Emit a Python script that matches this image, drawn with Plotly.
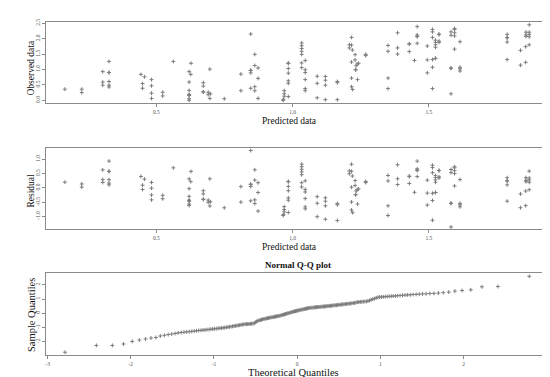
import plotly.graph_objects as go
from statistics import NormalDist

# ---- Panel 1 / 2 data: predicted vs observed (residual = observed - predicted) ----
predicted = [
    0.164, 0.226, 0.226, 0.303, 0.303, 0.303, 0.326, 0.326, 0.326, 0.326, 0.326, 0.326,
    0.443, 0.456, 0.449, 0.449, 0.482, 0.482, 0.482, 0.482, 0.523, 0.523, 0.562,
    0.620, 0.626, 0.627, 0.620, 0.620, 0.620, 0.620, 0.620, 0.620, 0.620,
    0.672, 0.672, 0.672, 0.672, 0.690, 0.690, 0.696, 0.696, 0.698, 0.749,
    0.810, 0.810, 0.846, 0.846, 0.846, 0.846, 0.846, 0.861, 0.861, 0.861, 0.861,
    0.873, 0.873, 0.873, 0.965,
    0.969, 0.969, 0.969, 0.966, 0.984, 0.984, 0.984, 0.984, 0.984, 0.984, 0.984,
    1.033, 1.033, 1.033, 1.033, 1.033, 1.033, 1.033,
    1.046, 1.046, 1.046, 1.046, 1.046, 1.046,
    1.090, 1.090, 1.090, 1.120, 1.120, 1.120, 1.120, 1.164, 1.164, 1.164,
    1.216, 1.208, 1.216, 1.208, 1.219, 1.229, 1.216, 1.229, 1.242, 1.237, 1.233,
    1.231, 1.231, 1.216, 1.238, 1.216, 1.220, 1.268, 1.268,
    1.350, 1.350, 1.350, 1.350, 1.385, 1.385, 1.385, 1.428, 1.428, 1.428, 1.447,
    1.457, 1.457, 1.457, 1.457, 1.457, 1.494, 1.494, 1.494,
    1.513, 1.513, 1.513, 1.513, 1.513, 1.513,
    1.524, 1.524, 1.524, 1.524, 1.524, 1.524, 1.537, 1.537, 1.537, 1.537,
    1.581, 1.581, 1.581, 1.581, 1.581, 1.594, 1.594, 1.594, 1.594, 1.594,
    1.614, 1.614, 1.614, 1.614,
    1.787, 1.787, 1.787, 1.787, 1.787, 1.836, 1.836, 1.855, 1.855,
    1.856, 1.856, 1.856, 1.868, 1.868, 1.868, 1.868, 1.868,
]
observed = [
    0.36, 0.36, 0.25, 0.93, 0.59, 0.49, 1.26, 0.90, 0.90, 0.61, 0.49, 0.43,
    0.84, 0.76, 0.54, 0.39, 0.67, 0.47, 0.23, 0.06, 0.26, 0.14, 1.26,
    0.93, 0.84, 1.20, 0.59, 0.32, 0.19, 0.16, 0.16, 0.05, 0.00,
    0.57, 0.46, 0.27, 0.27, 0.26, 0.18, 1.01, 0.06, 0.21, 0.05,
    0.85, 0.31, 2.15, 0.97, 0.97, 0.89, 0.39, 1.49, 1.13, 0.44, 0.31,
    1.05, 0.71, 0.06, 0.00,
    0.31, 0.21, 0.13, 0.03, 1.20, 1.20, 1.03, 0.88, 0.63, 0.55, 0.12,
    1.86, 1.77, 1.68, 1.59, 1.49, 1.21, 1.06,
    1.29, 0.99, 0.90, 0.67, 0.38, 0.31,
    0.78, 0.55, 0.08, 0.77, 0.65, 0.49, 0.02, 0.61, 0.57, 0.02,
    2.04, 1.80, 1.79, 1.70, 1.63, 1.48, 1.24, 1.31, 1.20, 1.18, 1.12,
    0.99, 0.99, 0.72, 0.67, 0.44, 0.35, 1.49, 1.45,
    1.78, 1.59, 0.72, 0.38, 2.19, 1.70, 1.50, 1.83, 1.83, 1.58, 1.29,
    2.39, 2.12, 2.07, 2.07, 1.85, 1.76, 1.31, 0.89,
    2.30, 2.22, 2.04, 1.32, 1.07, 0.38,
    1.95, 1.88, 1.80, 1.72, 1.36, 1.36, 2.14, 2.14, 1.92, 1.88,
    2.22, 2.11, 1.04, 1.04, 0.21, 2.33, 2.29, 2.19, 2.09, 1.66,
    1.90, 1.07, 1.02, 0.95,
    2.14, 2.03, 2.03, 1.89, 1.32, 1.62, 1.14, 1.74, 1.23,
    2.21, 2.12, 2.07, 2.45, 2.21, 2.14, 2.06, 1.80,
]
residual = [o - p for o, p in zip(observed, predicted)]

# ---- Panel 3 data: sorted sample quantiles (standardized residuals) ----
sample_quantiles = [
    -2.74, -2.26, -2.26, -2.16, -1.98, -1.88, -1.81, -1.74, -1.70, -1.60,
    -1.55, -1.50, -1.46, -1.42, -1.38, -1.35, -1.33, -1.31, -1.29, -1.27,
    -1.25, -1.23, -1.21, -1.20, -1.18, -1.17, -1.15, -1.14, -1.12, -1.11,
    -1.09, -1.08, -1.06, -1.05, -1.04, -1.02, -1.01, -0.99, -0.97, -0.95,
    -0.94, -0.92, -0.90, -0.88, -0.87, -0.85, -0.83, -0.81, -0.79, -0.78,
    -0.77, -0.76, -0.76, -0.75, -0.74, -0.73, -0.72, -0.72, -0.63, -0.58,
    -0.52, -0.51, -0.47, -0.46, -0.42, -0.40, -0.39, -0.36, -0.35, -0.33,
    -0.31, -0.29, -0.28, -0.27, -0.25, -0.23, -0.22, -0.20, -0.19, -0.17,
    -0.14, -0.12, -0.10, -0.07, -0.05, -0.03, 0.00, 0.02, 0.04, 0.07,
    0.09, 0.11, 0.14, 0.15, 0.17, 0.19, 0.21, 0.22, 0.25, 0.26,
    0.28, 0.30, 0.32, 0.33, 0.35, 0.37, 0.38, 0.39, 0.40, 0.40,
    0.41, 0.42, 0.43, 0.44, 0.44, 0.45, 0.46, 0.47, 0.47, 0.48,
    0.49, 0.50, 0.51, 0.52, 0.53, 0.53, 0.55, 0.55, 0.57, 0.57,
    0.59, 0.59, 0.61, 0.61, 0.63, 0.63, 0.65, 0.66, 0.67, 0.68,
    0.69, 0.70, 0.72, 0.73, 0.76, 0.78, 0.79, 0.80, 0.81, 0.82,
    0.83, 0.83, 0.86, 0.90, 0.95, 0.99, 1.03, 1.08, 1.12, 1.14,
    1.15, 1.16, 1.17, 1.18, 1.19, 1.20, 1.21, 1.22, 1.24, 1.25,
    1.26, 1.28, 1.29, 1.30, 1.32, 1.33, 1.35, 1.36, 1.37, 1.39,
    1.40, 1.42, 1.45, 1.49, 1.56, 1.60, 1.65, 1.86, 1.88, 2.60,
]
n = len(sample_quantiles)
theoretical = [NormalDist().inv_cdf((i + 0.5) / n) for i in range(n)]

x12_ticks = [0.5, 1.0, 1.5]
y1_ticks = [0.0, 0.5, 1.0, 1.5, 2.0, 2.5]
y2_ticks = [-1.0, -0.5, 0.0, 0.5, 1.0]
x3_ticks = [-3, -2, -1, 0, 1, 2, 3]
y3_ticks = [-2, -1, 0, 1, 2]

W, H = 550, 377
SERIF = "Liberation Serif, Times New Roman, serif"
marker = dict(symbol="cross-thin-open", size=2.8, color="#7c7c7c",
              line=dict(width=1, color="#7c7c7c"))

fig = go.Figure()
fig.add_trace(go.Scatter(x=predicted, y=observed, mode="markers", marker=marker,
                         xaxis="x", yaxis="y", showlegend=False))
fig.add_trace(go.Scatter(x=predicted, y=residual, mode="markers", marker=marker,
                         xaxis="x2", yaxis="y2", showlegend=False))
fig.add_trace(go.Scatter(x=theoretical, y=sample_quantiles, mode="markers", marker=marker,
                         xaxis="x3", yaxis="y3", showlegend=False))

xd = [37 / W, 540 / W]
def yd(top, bottom):
    return [1 - bottom / H, 1 - top / H]

tickfont = dict(family=SERIF, size=5.5, color="#555")
common = dict(showline=True, mirror=True, linecolor="#8a8a8a", linewidth=1,
              showgrid=False, zeroline=False, ticks="outside", ticklen=3,
              tickcolor="#8a8a8a", tickwidth=1, tickfont=tickfont)

fig.update_layout(
    width=W, height=H, margin=dict(l=0, r=0, t=0, b=0),
    paper_bgcolor="white", plot_bgcolor="white",
    xaxis=dict(domain=xd, anchor="y", range=[0.0945, 1.937], tickvals=x12_ticks,
               ticktext=["0.5", "1.0", "1.5"], **common),
    yaxis=dict(domain=yd(11, 93), anchor="x", range=[-0.097, 2.543], tickvals=y1_ticks,
               ticktext=[f"{v:.1f}" for v in y1_ticks], tickangle=-90, **common),
    xaxis2=dict(domain=xd, anchor="y2", range=[0.0945, 1.937], tickvals=x12_ticks,
                ticktext=["0.5", "1.0", "1.5"], **common),
    yaxis2=dict(domain=yd(137.7, 220), anchor="x2", range=[-1.449, 1.405], tickvals=y2_ticks,
                ticktext=[f"{v:.1f}" for v in y2_ticks], tickangle=-90, **common),
    xaxis3=dict(domain=xd, anchor="y3", range=[-3.02, 3.016], tickvals=x3_ticks,
                ticktext=[str(v) for v in x3_ticks], **common),
    yaxis3=dict(domain=yd(264, 346.7), anchor="x3", range=[-2.93, 2.84], tickvals=y3_ticks,
                ticktext=[str(v) for v in y3_ticks], tickangle=-90, **common),
)

def ann(text, px, py, size, angle=0, bold=False):
    fig.add_annotation(text=f"<b>{text}</b>" if bold else text,
                       x=px / W, y=1 - py / H, xref="paper", yref="paper",
                       showarrow=False, textangle=angle,
                       font=dict(family=SERIF, size=size, color="#111"),
                       xanchor="center", yanchor="middle")

ann("Observed data", 22, 57, 9.5, angle=-90)
ann("Predicted data", 281, 111, 9.5)
ann("Residual", 22, 181, 9.5, angle=-90)
ann("Predicted data", 281, 238, 9.5)
ann("Normal Q-Q plot", 290, 256.5, 9, bold=True)
ann("Sample Quantiles", 22.5, 306, 10.5, angle=-90)
ann("Theoretical Quantiles", 285.5, 364.5, 10.5)

fig.write_html("out.html")
